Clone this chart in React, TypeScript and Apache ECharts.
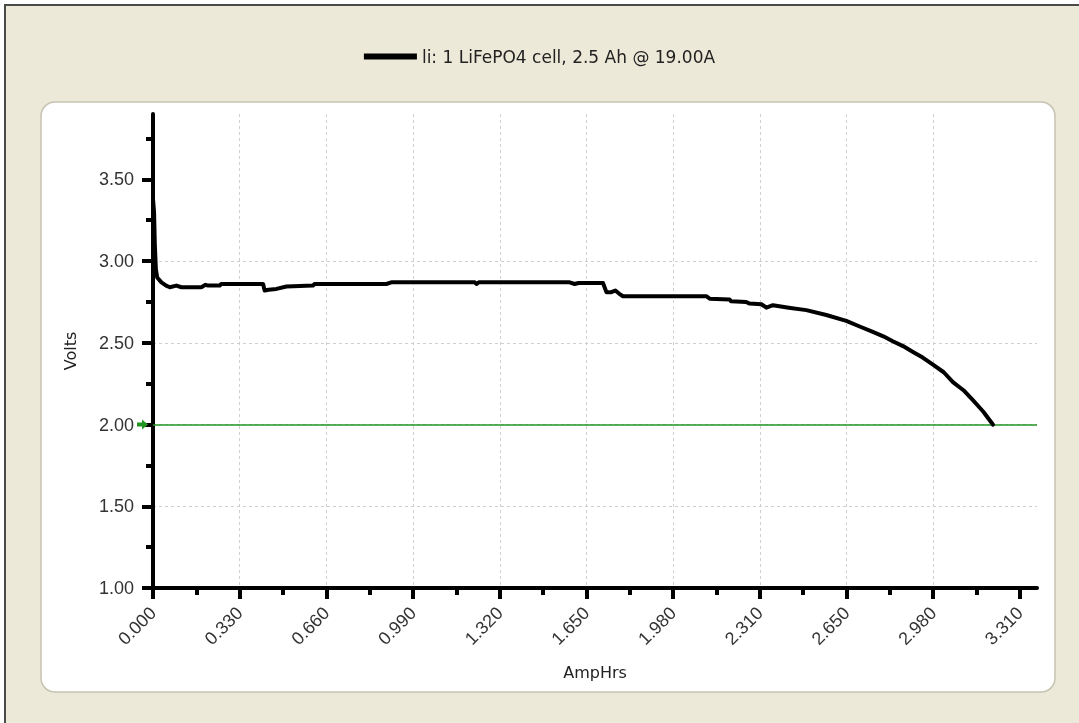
import React, { useEffect, useRef } from "react";
import * as echarts from "echarts";

const seriesName = "li: 1 LiFePO4 cell, 2.5 Ah @ 19.00A";

const ampHrs = [
  0, 0.004, 0.007, 0.011, 0.016, 0.032, 0.05, 0.064, 0.089, 0.108, 0.184, 0.2,
  0.21, 0.254, 0.26, 0.419, 0.425, 0.44, 0.47, 0.508, 0.609, 0.615, 0.888,
  0.907, 1.225, 1.231, 1.24, 1.586, 1.605, 1.62, 1.713, 1.726, 1.745, 1.76,
  1.775, 1.789, 2.106, 2.119, 2.195, 2.2, 2.258, 2.271, 2.316, 2.335, 2.36,
  2.42, 2.487, 2.563, 2.639, 2.69, 2.74, 2.78, 2.816, 2.855, 2.893, 2.93,
  2.969, 3.01, 3.045, 3.085, 3.121, 3.16, 3.197,
];
const volts = [
  3.38, 3.3, 3.1, 2.95, 2.9, 2.87, 2.85, 2.84, 2.85, 2.84, 2.84, 2.855, 2.85,
  2.85, 2.86, 2.86, 2.82, 2.825, 2.83, 2.845, 2.85, 2.86, 2.86, 2.87, 2.87,
  2.86, 2.87, 2.87, 2.86, 2.866, 2.866, 2.81, 2.81, 2.82, 2.8, 2.785, 2.785,
  2.77, 2.765, 2.755, 2.75, 2.74, 2.736, 2.715, 2.73, 2.715, 2.7, 2.67, 2.634,
  2.6, 2.567, 2.54, 2.51, 2.48, 2.444, 2.41, 2.366, 2.32, 2.26, 2.21, 2.149,
  2.08, 2.0,
];

const cutoffVolts = 2.0;

const xTickValues = [0, 0.33, 0.66, 0.99, 1.32, 1.65, 1.98, 2.31, 2.64, 2.97, 3.3];
const xTickLabels = [
  "0.000", "0.330", "0.660", "0.990", "1.320", "1.650", "1.980", "2.310",
  "2.650", "2.980", "3.310",
];
const xMinorValues = [0.165, 0.495, 0.825, 1.155, 1.485, 1.815, 2.145, 2.475, 2.805, 3.135];
const yTickValues = [1.0, 1.5, 2.0, 2.5, 3.0, 3.5];
const yMinorValues = [1.25, 1.75, 2.25, 2.75, 3.25, 3.75];

const W = 1079;
const H = 723;

export default function App() {
  const ref = useRef<HTMLDivElement>(null);

  useEffect(() => {
    if (!ref.current) return;
    const chart = echarts.init(ref.current, null, { renderer: "svg" });
    const tickFont = "Liberation Sans";
    const textFont = "DejaVu Sans";
    const data = ampHrs.map((a, i) => [a, volts[i]]);

    const option: any = {
      animation: false,
      textStyle: { fontFamily: tickFont },
      grid: { left: 153, right: 42, top: 114, bottom: 135, containLabel: false },
      legend: {
        top: 43,
        left: "center",
        icon: "rect",
        itemWidth: 53,
        itemHeight: 6,
        itemGap: 10,
        textStyle: { fontFamily: textFont, fontSize: 17, color: "#222" },
        data: [{ name: seriesName, itemStyle: { color: "#000" } }],
      },
      xAxis: [
        {
          type: "value",
          min: 0,
          max: 3.365,
          interval: 0.33,
          name: "AmpHrs",
          nameLocation: "middle",
          nameGap: 76,
          nameTextStyle: { fontFamily: textFont, fontSize: 16, color: "#222" },
          axisLine: { show: true, onZero: false, lineStyle: { color: "#000", width: 4 } },
          axisTick: {
            show: true,
            customValues: xTickValues,
            length: 11,
            lineStyle: { color: "#000", width: 4 },
          },
          axisLabel: {
            customValues: xTickValues,
            rotate: 45,
            margin: 22,
            fontFamily: tickFont,
            fontSize: 18,
            color: "#333",
            formatter: (v: number) => {
              const i = xTickValues.findIndex((t) => Math.abs(t - v) < 1e-6);
              return i >= 0 ? xTickLabels[i] : "";
            },
          },
          splitLine: {
            show: true,
            showMaxLine: false,
            lineStyle: { color: "#cfcfcf", type: [3, 3], width: 1 },
          },
        },
        {
          type: "value",
          min: 0,
          max: 3.365,
          gridIndex: 0,
          position: "bottom",
          axisLine: { show: false, onZero: false },
          axisLabel: { show: false },
          splitLine: { show: false },
          axisTick: {
            show: true,
            customValues: xMinorValues,
            length: 7,
            lineStyle: { color: "#000", width: 4 },
          },
        },
      ],
      yAxis: [
        {
          type: "value",
          min: 1,
          max: 3.9,
          interval: 0.5,
          name: "Volts",
          nameLocation: "middle",
          nameGap: 75,
          nameTextStyle: { fontFamily: textFont, fontSize: 16, color: "#222" },
          axisLine: { show: true, onZero: false, lineStyle: { color: "#000", width: 4 } },
          axisTick: {
            show: true,
            customValues: yTickValues,
            length: 11,
            lineStyle: { color: "#000", width: 4 },
          },
          axisLabel: {
            customValues: yTickValues,
            margin: 19,
            fontFamily: tickFont,
            fontSize: 18,
            color: "#333",
            formatter: (v: number) => v.toFixed(2),
          },
          splitLine: {
            show: true,
            showMaxLine: false,
            lineStyle: { color: "#cfcfcf", type: [3, 3], width: 1 },
          },
        },
        {
          type: "value",
          min: 1,
          max: 3.9,
          gridIndex: 0,
          position: "left",
          axisLine: { show: false, onZero: false },
          axisLabel: { show: false },
          splitLine: { show: false },
          axisTick: {
            show: true,
            customValues: yMinorValues,
            length: 7,
            lineStyle: { color: "#000", width: 4 },
          },
        },
      ],
      series: [
        {
          name: seriesName,
          type: "line",
          data,
          showSymbol: false,
          symbol: "none",
          color: "#000",
          lineStyle: { color: "#000", width: 4, join: "round", cap: "round" },
          z: 5,
          markLine: {
            silent: true,
            symbol: ["none", "none"],
            label: { show: false },
            lineStyle: { color: "#239523", width: 1.5, type: "solid" },
            data: [{ yAxis: cutoffVolts }],
            z: 3,
          },
        },
      ],
      graphic: [
        { id: "bgWhite", type: "rect", z: -30, silent: true, shape: { x: 0, y: 0, width: W, height: H }, style: { fill: "#ffffff" } },
        { id: "bgBeige", type: "rect", z: -29, silent: true, shape: { x: 6, y: 6, width: W - 6, height: H - 6 }, style: { fill: "#ece9d8" } },
        { id: "borderTop", type: "line", z: -28, silent: true, shape: { x1: 4, y1: 5, x2: W, y2: 5 }, style: { stroke: "#4a4a4a", lineWidth: 2 } },
        { id: "borderLeft", type: "line", z: -28, silent: true, shape: { x1: 5, y1: 4, x2: 5, y2: H }, style: { stroke: "#4a4a4a", lineWidth: 2 } },
        {
          id: "panel",
          type: "rect",
          z: -27,
          silent: true,
          shape: { x: 41, y: 102, width: 1014, height: 590, r: 14 },
          style: { fill: "#ffffff", stroke: "#c6c3b3", lineWidth: 1.5 },
        },
      ],
    };

    chart.setOption(option);

    const yPix = chart.convertToPixel({ yAxisIndex: 0 }, cutoffVolts) as number;
    const xPix = chart.convertToPixel({ xAxisIndex: 0 }, 0) as number;
    chart.setOption({
      graphic: [
        {
          id: "cutoffArrow",
          type: "polygon",
          z: 10,
          silent: true,
          shape: {
            points: [
              [xPix - 16, yPix - 2],
              [xPix - 11, yPix - 2],
              [xPix - 11, yPix - 5],
              [xPix - 5, yPix],
              [xPix - 11, yPix + 5],
              [xPix - 11, yPix + 2],
              [xPix - 16, yPix + 2],
            ],
          },
          style: { fill: "#239523" },
        },
      ],
    });

    return () => chart.dispose();
  }, []);

  return (
    <div
      ref={ref}
      style={{ position: "fixed", left: 0, top: 0, width: W, height: H }}
    />
  );
}
